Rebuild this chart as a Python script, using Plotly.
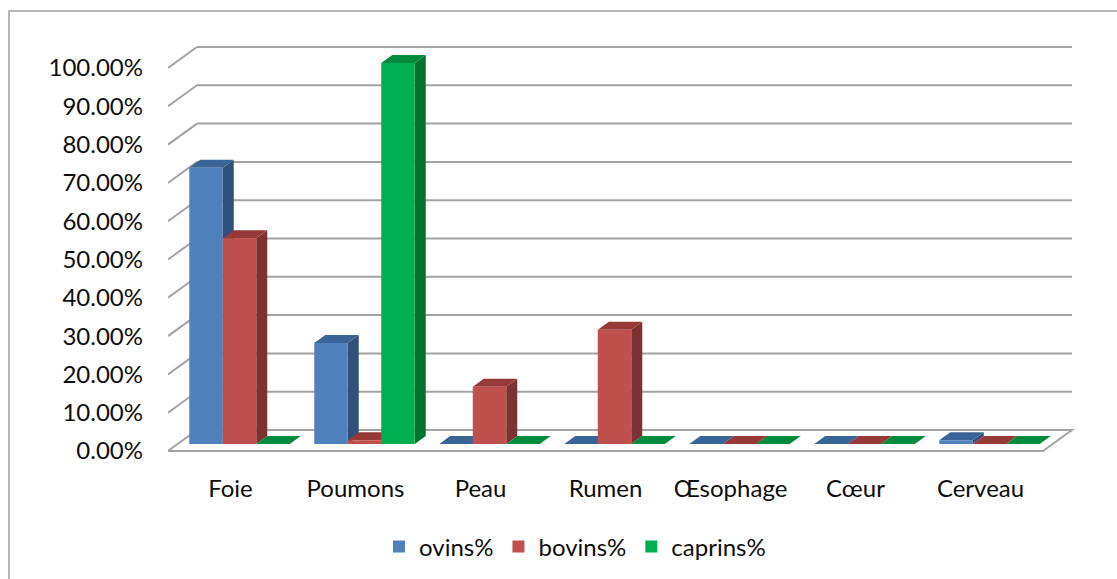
import plotly.graph_objects as go

# ---- data -------------------------------------------------------------
categories = ["Foie", "Poumons", "Peau", "Rumen", "Œsophage", "Cœur", "Cerveau"]
ovins = [72.5, 26.5, 0, 0, 0, 0, 1.0]
bovins = [54.0, 1.0, 15.0, 30.0, 0, 0, 0]
caprins = [0, 100.0, 0, 0, 0, 0, 0]
y_ticks = [0, 10, 20, 30, 40, 50, 60, 70, 80, 90, 100]

series = [
    ("ovins%", ovins, "#4F81BD", "#3A6496", "#30507B"),
    ("bovins%", bovins, "#C0504D", "#953A38", "#7D3231"),
    ("caprins%", caprins, "#00B050", "#008A3C", "#007230"),
]

# ---- geometry (pixels) -------------------------------------------------
W, H = 1117, 579
L, R, T, B = 168, 42, 40, 109
plot_w = W - L - R
plot_h = H - T - B
px_per_cat = 125.0
px_per_pct_front = 3.83       # front edge scale (tick labels)
px_per_pct_bar = 3.81         # bar plane scale
zero_front = 451              # pixel row of 0 % on the front edge
zero_bar = 444                # pixel row of 0 % at the bar fronts
wall_dx, wall_dy = 29, 21     # depth of the floor / back wall
bar_shift = 9                 # bars sit a little behind the front edge
bar_dx, bar_dy = 11, 8        # depth of each column
bar_w_px = 33.5

xr = [0, plot_w / px_per_cat]
bottom_px = T + plot_h
yr_front = [(zero_front - bottom_px) / px_per_pct_front, (zero_front - T) / px_per_pct_front]
yr_bar = [(zero_bar - bottom_px) / px_per_pct_bar, (zero_bar - T) / px_per_pct_bar]

wdx = wall_dx / px_per_cat
wdy = wall_dy / px_per_pct_front
bdx = bar_dx / px_per_cat
bdy = bar_dy / px_per_pct_bar
shift = bar_shift / px_per_cat
bw = bar_w_px / px_per_cat
n = len(categories)
group_w = bw * len(series)

fig = go.Figure()

x_bar = [i + 0.5 + shift for i in range(n)]
for name, vals, front, top, side in series:
    fig.add_trace(go.Bar(
        x=x_bar, y=vals, name=name, yaxis="y2",
        marker=dict(color=front, line=dict(width=0)),
    ))

shapes = []
grid = dict(color="#A3A3A3", width=2)

# floor
shapes.append(dict(
    type="path", xref="x", yref="y", layer="below", line=grid,
    path=f"M 0,0 L {n},0 L {n + wdx},{wdy} L {wdx},{wdy} Z",
))
# back-wall gridlines and left-wall diagonals
for v in y_ticks[1:]:
    shapes.append(dict(type="line", xref="x", yref="y", layer="below", line=grid,
                       x0=wdx, y0=v + wdy, x1=n + wdx, y1=v + wdy))
    shapes.append(dict(type="line", xref="x", yref="y", layer="below", line=grid,
                       x0=0, y0=v, x1=wdx, y1=v + wdy))

# top and side faces of every column
for s, (name, vals, front, top, side) in enumerate(series):
    for i, v in enumerate(vals):
        x0 = x_bar[i] - group_w / 2 + s * bw
        x1 = x0 + bw
        shapes.append(dict(
            type="path", xref="x", yref="y2", layer="below",
            fillcolor=side, line=dict(width=0),
            path=f"M {x1},0 L {x1},{v} L {x1 + bdx},{v + bdy} L {x1 + bdx},{bdy} Z",
        ))
        shapes.append(dict(
            type="path", xref="x", yref="y2", layer="below",
            fillcolor=top, line=dict(width=0),
            path=f"M {x0},{v} L {x1},{v} L {x1 + bdx},{v + bdy} L {x0 + bdx},{v + bdy} Z",
        ))

# chart frame
shapes.append(dict(
    type="rect", xref="paper", yref="paper", layer="above",
    x0=(9 - L) / plot_w, x1=(W + 20 - L) / plot_w,
    y0=(bottom_px - (H + 20)) / plot_h, y1=(bottom_px - 11) / plot_h,
    line=dict(color="#A0A0A0", width=1.5), fillcolor="rgba(0,0,0,0)",
))

font = dict(family="Lato, Carlito, Calibri, sans-serif", size=24, color="#0D0D0D")

fig.update_layout(
    width=W, height=H, autosize=False,
    margin=dict(l=L, r=R, t=T, b=B, pad=0),
    paper_bgcolor="white", plot_bgcolor="white",
    barmode="group", bargap=1 - group_w, bargroupgap=0,
    font=font,
    shapes=shapes,
    showlegend=True,
    legend=dict(
        orientation="h", xref="container", yref="container",
        x=575 / W, xanchor="center", y=1 - 547 / H, yanchor="middle",
        font=font, itemwidth=30, traceorder="normal",
    ),
    xaxis=dict(
        range=xr, showgrid=False, zeroline=False, showline=False,
        tickmode="array", tickvals=[i + 0.5 for i in range(n)], ticktext=categories,
        ticks="", ticklabelstandoff=2, fixedrange=True,
    ),
    yaxis=dict(
        range=yr_front, showgrid=False, zeroline=False, showline=False,
        tickmode="array", tickvals=y_ticks,
        ticktext=[f"{v:.2f}%" for v in y_ticks],
        ticks="", ticklabelstandoff=24, fixedrange=True,
    ),
    yaxis2=dict(
        range=yr_bar, overlaying="y", showgrid=False, zeroline=False,
        showline=False, showticklabels=False, fixedrange=True,
    ),
)

fig.write_html("out.html")
